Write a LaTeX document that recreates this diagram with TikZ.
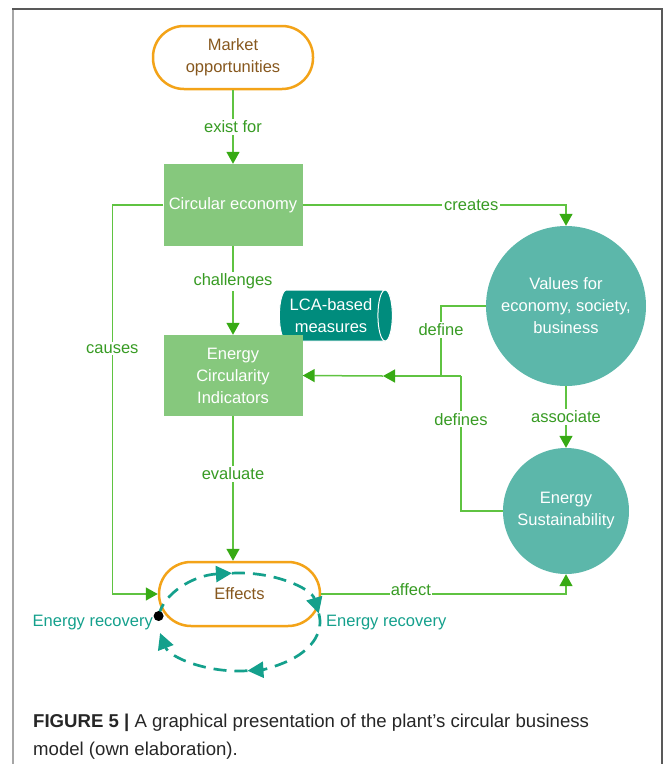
\documentclass[tikz,border=0pt]{standalone}
\usepackage{fontspec}
\setmainfont{Liberation Sans}
\usetikzlibrary{arrows.meta, positioning, shapes.geometric, calc}
\definecolor{cyorange}{RGB}{243,163,24}
\definecolor{cybrown}{RGB}{135,88,30}
\definecolor{boxgreen}{RGB}{134,200,125}
\definecolor{linegreen}{RGB}{95,195,65}
\definecolor{tipgreen}{RGB}{55,170,20}
\definecolor{txtgreen}{RGB}{55,155,35}
\definecolor{circteal}{RGB}{92,183,170}
\definecolor{lcateal}{RGB}{0,140,125}
\definecolor{dashteal}{RGB}{20,160,140}
\newcommand{\dfont}{\fontsize{16.5}{22}\selectfont}
\tikzset{
  pill/.style={rectangle,rounded corners=31pt,draw=cyorange,line width=2.5pt,
    fill=white,text=cybrown,align=center,font=\dfont,inner sep=2pt},
  gbox/.style={rectangle,fill=boxgreen,text=white,align=center,font=\dfont,
    minimum width=139pt,minimum height=82pt,inner sep=2pt},
  tcirc/.style={circle,fill=circteal,text=white,align=center,font=\dfont,inner sep=0pt},
  lcabox/.style={cylinder,shape border rotate=0,aspect=0.4,minimum height=113pt,
    minimum width=51pt,cylinder uses custom fill,cylinder body fill=lcateal,
    cylinder end fill=lcateal,draw=white,line width=1pt,text=white,align=center,
    font=\dfont,inner sep=1pt},
  lbl/.style={fill=white,text=txtgreen,font=\dfont,inner sep=2pt},
  ln/.style={draw=linegreen,line width=1.5pt},
  ar/.style={ln,-{Triangle[length=12pt,width=13pt,color=tipgreen]}},
  cyc/.style={draw=dashteal,line width=2.7pt,dash pattern=on 13pt off 8pt,
    -{Triangle[length=16pt,width=16pt]}},
  rec/.style={text=dashteal,font=\dfont,inner sep=0pt},
  dot/.style={circle,fill=black,minimum size=10pt,inner sep=0pt}
}
\begin{document}
\begin{tikzpicture}[x=1pt,y=-1pt]
\useasboundingbox (0,0) rectangle (663,764);
% frame
\draw[black!35,line width=2pt] (13,764) -- (13,9);
\draw[black!65,line width=1.5pt] (12,9) -- (662,9) -- (662,764);

% nodes
\node[lcabox] (lca) at (331,315.5) {LCA-based\\measures};
\node[pill,minimum width=160pt,minimum height=63pt] (mkt) at (233,57.5) {Market\\opportunities};
\node[gbox] (ce) at (233,205) {Circular economy};
\node[gbox,minimum height=81pt] (eci) at (233,375.5) {Energy\\Circularity\\Indicators};
\node[tcirc,minimum size=160pt] (vals) at (566,306) {Values for\\economy, society,\\business};
\node[tcirc,minimum size=126pt] (sust) at (566,511) {Energy\\Sustainability};
\node[pill,rounded corners=32pt,minimum width=161pt,minimum height=64pt] (eff) at (239.5,594) {Effects};

% connectors
\draw[ar] (mkt) -- node[lbl]{exist for} (ce);
\draw[ar] (ce) -- node[lbl,pos=0.4]{challenges} (eci);
\draw[ar] (eci.south) -- node[lbl,pos=0.4]{evaluate} (eci.south |- eff.north);
\draw[ar] (vals) -- node[lbl]{associate} (sust);
\draw[ar] (ce.east) -| node[lbl,pos=0.32]{creates} (vals.north);
\draw[ar] (ce.west) -- ++(-51,0) |- node[lbl,pos=0.185]{causes} (eff.west);
\draw[ar] (eff.east) -| node[lbl,anchor=south,pos=0.183,inner sep=1pt,yshift=-3pt]{affect} (sust.south);

\coordinate (jdef) at (441,376);
\coordinate (jdefs) at (461,376);
\coordinate (jmid) at (383,376);
\draw[ln] (vals.west) -| node[lbl,pos=0.67]{define} (jdef);
\draw[ln] (sust.west) -| node[lbl,pos=0.84]{defines} (jdefs);
\draw[ar] (jdefs) -- (jmid);
\draw[ar] (jmid) -- (eci.east);

% energy recovery loop
\coordinate (ecen) at (239,622);
\path (ecen) ++(265:81 and 49) coordinate (ctop)
      (ecen) ++(350:81 and 49) coordinate (cright)
      (ecen) ++(84:81 and 49) coordinate (cbot);
\coordinate (cstart) at ($(ecen)+(187:81 and 49)$);
\draw[cyc] (cstart) arc[start angle=187,end angle=265,x radius=81,y radius=49];
\draw[cyc] (ctop) arc[start angle=265,end angle=350,x radius=81,y radius=49];
\draw[cyc] (cright) arc[start angle=350,end angle=444,x radius=81,y radius=49];
\draw[cyc] (cbot) arc[start angle=444,end angle=527,x radius=81,y radius=49];
\node[dot] (dotst) at (cstart) {};
\node[rec,anchor=east] (recl) at (153,623) {Energy recovery};
\node[rec,anchor=west] (recr) at (326,623) {Energy recovery};

% caption
\node[anchor=north west,align=left,inner sep=0pt,text=black!85,
  font=\fontsize{18.6}{28}\selectfont] (cap) at (33,714)
  {\textbf{FIGURE 5 |} A graphical presentation of the plant’s circular business\\model (own elaboration).};
\end{tikzpicture}
\end{document}
